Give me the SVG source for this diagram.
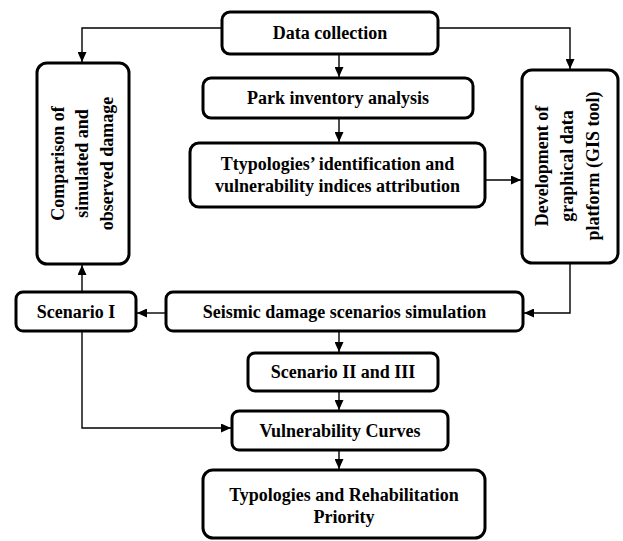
<svg xmlns="http://www.w3.org/2000/svg" width="623" height="541" viewBox="0 0 623 541">
<style>
.box{fill:#fff;stroke:#000;stroke-width:3}
.t{font-family:"Liberation Serif","Times New Roman",serif;font-weight:bold;font-size:18px;fill:#000;text-anchor:middle}
.c{fill:none;stroke:#000;stroke-width:1.4;marker-end:url(#ah)}
.cn{fill:none;stroke:#000;stroke-width:1.4}
</style>
<defs>
<marker id="ah" markerUnits="userSpaceOnUse" markerWidth="11" markerHeight="9" refX="10" refY="4.5" orient="auto">
<path d="M0,0 L10,4.5 L0,9 Z" fill="#000"/>
</marker>
</defs>
<rect width="623" height="541" fill="#fff"/>
<g id="connectors">
<path class="c" d="M222,28 H82 V62"/>
<path class="c" d="M438,28 H570 V69"/>
<path class="c" d="M339,54 V77"/>
<path class="c" d="M339,118 V142"/>
<path class="c" d="M485,180 H521"/>
<path class="c" d="M570,263 V313 H524"/>
<path class="c" d="M166,313 H137"/>
<path class="c" d="M82,292 V265"/>
<path class="c" d="M339,331 V352"/>
<path class="c" d="M339,391 V410"/>
<path class="c" d="M339,450 V469"/>
<path class="c" d="M82,331 V428 H231"/>
</g>
<g id="data">
<rect class="box" x="222" y="12" width="216" height="42" rx="8"/>
<text class="t" x="330" y="39">Data collection</text>
</g>
<g id="park">
<rect class="box" x="203" y="78" width="270" height="40" rx="8"/>
<text class="t" x="338" y="104">Park inventory analysis</text>
</g>
<g id="typo">
<rect class="box" x="190" y="143" width="295" height="64" rx="9"/>
<text class="t" x="337.5" y="170">Ttypologies’ identification and</text>
<text class="t" x="337.5" y="192">vulnerability indices attribution</text>
</g>
<g id="comp">
<rect class="box" x="37" y="63" width="92" height="201" rx="10"/>
<g transform="translate(83,163.5) rotate(-90)">
<text class="t" x="0" y="-19">Comparison of</text>
<text class="t" x="0" y="5">simulated and</text>
<text class="t" x="0" y="30">observed damage</text>
</g>
</g>
<g id="gis">
<rect class="box" x="522" y="70" width="96" height="193" rx="10"/>
<g transform="translate(570,166) rotate(-90)">
<text class="t" x="0" y="-22">Development of</text>
<text class="t" x="0" y="3">graphical data</text>
<text class="t" x="0" y="29">platform (GIS tool)</text>
</g>
</g>
<g id="scen1">
<rect class="box" x="16" y="292" width="120" height="39" rx="7"/>
<text class="t" x="76" y="318">Scenario I</text>
</g>
<g id="seismic">
<rect class="box" x="166" y="292" width="357" height="39" rx="7"/>
<text class="t" x="344.5" y="318">Seismic damage scenarios simulation</text>
</g>
<g id="scen23">
<rect class="box" x="248" y="353" width="190" height="38" rx="7"/>
<text class="t" x="343" y="378">Scenario II and III</text>
</g>
<g id="vuln">
<rect class="box" x="232" y="411" width="216" height="39" rx="7"/>
<text class="t" x="340" y="437">Vulnerability Curves</text>
</g>
<g id="final">
<rect class="box" x="203" y="470" width="282" height="68" rx="10"/>
<text class="t" x="344" y="501">Typologies and Rehabilitation</text>
<text class="t" x="344" y="523">Priority</text>
</g>
</svg>
